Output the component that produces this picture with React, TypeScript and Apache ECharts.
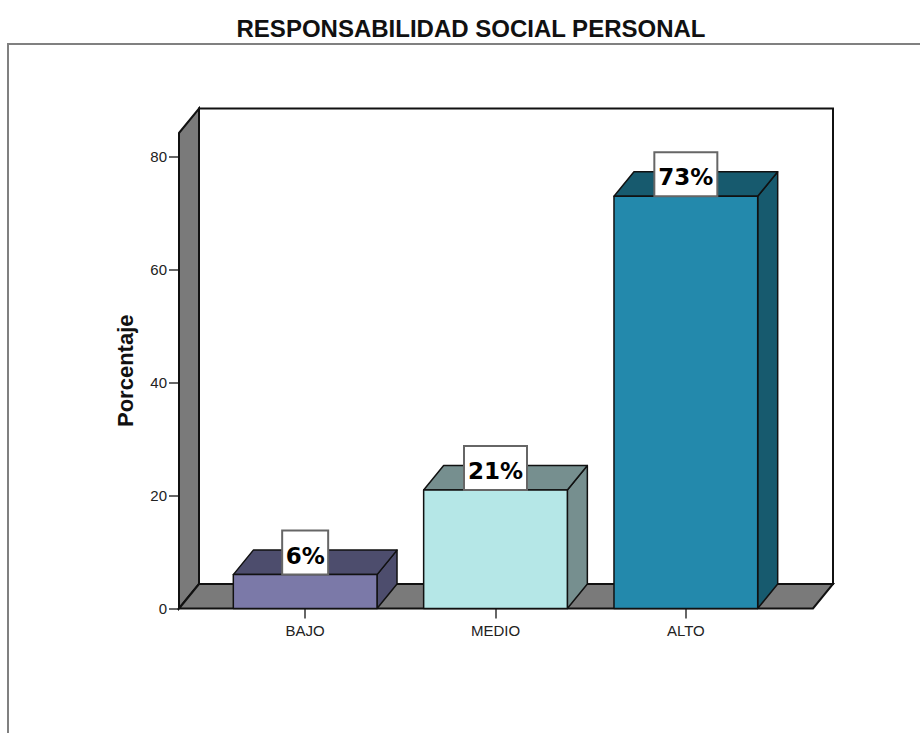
import React, { useEffect, useRef } from "react";
import * as echarts from "echarts";

const chartTitle = "RESPONSABILIDAD SOCIAL PERSONAL";
const yAxisTitle = "Porcentaje";
const categories = ["BAJO", "MEDIO", "ALTO"];
const percentages = [6, 21, 73];
const yTicks = [0, 20, 40, 60, 80];
const frontColors = ["#7b79a8", "#b5e7e7", "#2389ac"];
const shadeColors = ["#4d4d6d", "#768f8f", "#175a6e"];

// Oblique offset of the back plane relative to the front plane.
const DEPTH_X = 20;
const DEPTH_Y = -24.5;
const WALL_COLOR = "#7a7a7a";
const EDGE = "#111111";

const GRID = { left: 210, top: 133, width: 571, height: 475.5 };
const FRAME_LEFT = 179;
const FRAME_RIGHT = 813;
const Y_MAX = 84.2;

function renderFrame(_params: any, api: any) {
  const [, y0] = api.coord([0, 0]);
  const [, yTop] = api.coord([0, Y_MAX]);
  const edge = { stroke: EDGE, lineWidth: 2 };
  return {
    type: "group",
    children: [
      {
        type: "polygon",
        shape: {
          points: [
            [FRAME_LEFT + DEPTH_X, yTop + DEPTH_Y],
            [FRAME_RIGHT + DEPTH_X, yTop + DEPTH_Y],
            [FRAME_RIGHT + DEPTH_X, y0 + DEPTH_Y],
            [FRAME_LEFT + DEPTH_X, y0 + DEPTH_Y],
          ],
        },
        style: { fill: "#ffffff", ...edge },
      },
      {
        type: "polygon",
        shape: {
          points: [
            [FRAME_LEFT, yTop],
            [FRAME_LEFT + DEPTH_X, yTop + DEPTH_Y],
            [FRAME_LEFT + DEPTH_X, y0 + DEPTH_Y],
            [FRAME_LEFT, y0],
          ],
        },
        style: { fill: WALL_COLOR, ...edge },
      },
      {
        type: "polygon",
        shape: {
          points: [
            [FRAME_LEFT, y0],
            [FRAME_LEFT + DEPTH_X, y0 + DEPTH_Y],
            [FRAME_RIGHT + DEPTH_X, y0 + DEPTH_Y],
            [FRAME_RIGHT, y0],
          ],
        },
        style: { fill: WALL_COLOR, ...edge },
      },
    ],
  };
}

function renderBar(params: any, api: any) {
  const index = api.value(0);
  const value = api.value(1);
  const [cx, yTop] = api.coord([index, value]);
  const [, yBase] = api.coord([index, 0]);
  const half = (api.size([1, 0])[0] * 0.755) / 2;
  const l = cx - half;
  const r = cx + half;
  const edge = { stroke: EDGE, lineWidth: 1.5, lineJoin: "round" };
  const text = `${value}%`;
  const boxWidth = value < 10 ? 46 : 63;
  return {
    type: "group",
    children: [
      {
        type: "polygon",
        shape: {
          points: [
            [r, yBase],
            [r + DEPTH_X, yBase + DEPTH_Y],
            [r + DEPTH_X, yTop + DEPTH_Y],
            [r, yTop],
          ],
        },
        style: { fill: shadeColors[params.dataIndex], ...edge },
      },
      {
        type: "polygon",
        shape: {
          points: [
            [l, yTop],
            [l + DEPTH_X, yTop + DEPTH_Y],
            [r + DEPTH_X, yTop + DEPTH_Y],
            [r, yTop],
          ],
        },
        style: { fill: shadeColors[params.dataIndex], ...edge },
      },
      {
        type: "rect",
        shape: { x: l, y: yTop, width: r - l, height: yBase - yTop },
        style: { fill: frontColors[params.dataIndex], ...edge },
      },
      {
        type: "rect",
        shape: { x: cx - boxWidth / 2, y: yTop - 44, width: boxWidth, height: 44 },
        style: { fill: "#ffffff", stroke: "#666666", lineWidth: 2 },
      },
      {
        type: "text",
        style: {
          text,
          x: cx,
          y: yTop - 19,
          align: "center",
          verticalAlign: "middle",
          fill: "#000000",
          font: 'bold 23px "DejaVu Sans"',
        },
      },
    ],
  };
}

export default function App() {
  const ref = useRef<HTMLDivElement>(null);

  useEffect(() => {
    document.body.style.margin = "0";
    const chart = echarts.init(ref.current!, undefined, { renderer: "svg" });
    chart.setOption({
      animation: false,
      backgroundColor: "#ffffff",
      title: {
        text: chartTitle,
        left: 471,
        top: 20,
        textAlign: "center",
        textStyle: {
          fontFamily: "Liberation Sans",
          fontWeight: "bold",
          fontSize: 24,
          color: "#111111",
        },
        padding: [-4, 10, 0, 0],
      },
      graphic: [
        {
          type: "polyline",
          shape: { points: [[8, 733], [8, 44], [920, 44]] },
          style: { fill: "none", stroke: "#808080", lineWidth: 2 },
        },
      ],
      grid: GRID,
      xAxis: {
        type: "category",
        data: categories,
        axisLine: { show: false },
        axisTick: { show: true, alignWithLabel: true, length: 10, lineStyle: { color: "#333333", width: 1.5 } },
        axisLabel: {
          fontFamily: "Liberation Sans",
          fontSize: 15,
          color: "#222222",
          margin: 14,
        },
      },
      yAxis: {
        type: "value",
        min: 0,
        max: Y_MAX,
        offset: 31,
        name: yAxisTitle,
        nameLocation: "middle",
        nameRotate: 90,
        nameGap: 43,
        nameTextStyle: {
          fontFamily: "Liberation Sans",
          fontWeight: "bold",
          fontSize: 22,
          color: "#111111",
        },
        splitLine: { show: false },
        axisLine: { show: false },
        axisTick: { show: true, length: 10, customValues: yTicks, lineStyle: { color: "#333333", width: 1.5 } },
        axisLabel: {
          customValues: yTicks,
          fontFamily: "Liberation Sans",
          fontSize: 15,
          color: "#222222",
          margin: 12,
        },
      },
      series: [
        {
          type: "custom",
          renderItem: renderFrame,
          data: [[0, 0]],
          encode: { x: 0, y: 1 },
          silent: true,
          z: 1,
        },
        {
          type: "custom",
          renderItem: renderBar,
          data: percentages.map((v, i) => [i, v]),
          encode: { x: 0, y: 1 },
          silent: true,
          z: 2,
        },
      ],
    });
    return () => chart.dispose();
  }, []);

  return <div ref={ref} style={{ width: 920, height: 733 }} />;
}
